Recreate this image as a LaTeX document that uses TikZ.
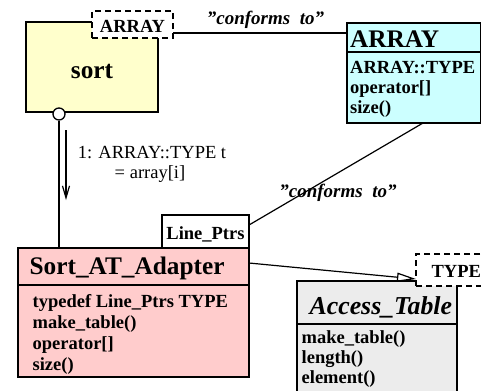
\documentclass[tikz,border=0pt]{standalone}
\usepackage{fontspec}
\setmainfont{Liberation Serif}
\usetikzlibrary{arrows.meta,calc}
\definecolor{sortfill}{RGB}{255,255,204}
\definecolor{arrfill}{RGB}{204,255,255}
\definecolor{adfill}{RGB}{255,204,204}
\definecolor{atfill}{RGB}{236,236,236}
\newcommand{\sq}{\symbol{34}}
\begin{document}
\begin{tikzpicture}[x=1bp,y=-1bp,line width=1.3bp,
  box/.style={draw,rectangle,inner sep=0pt,outer sep=0pt,anchor=north west},
  tmpl/.style={box,fill=white,dash pattern=on 6bp off 4bp},
  titletxt/.style={font=\fontsize{25.3bp}{28bp}\selectfont\bfseries,inner sep=0pt,anchor=base west},
  membtxt/.style={font=\fontsize{18.5bp}{21bp}\selectfont\bfseries,inner sep=0pt,anchor=base west},
  smalltxt/.style={font=\fontsize{18.5bp}{21bp}\selectfont\bfseries,inner sep=0pt,anchor=base},
  labtxt/.style={font=\fontsize{19bp}{21bp}\selectfont\bfseries\itshape,inner sep=0pt,anchor=base},
  msgtxt/.style={font=\fontsize{18.5bp}{21bp}\selectfont,inner sep=0pt,anchor=base},
  conn/.style={draw,line width=1.2bp}
]
\useasboundingbox (0,0) rectangle (481,390);

% sort class
\node[box,fill=sortfill,minimum width=132bp,minimum height=90bp] (sort) at (26,22) {};
\node[titletxt,anchor=base] (sortt) at (92,78) {sort};
\node[tmpl,minimum width=81bp,minimum height=27bp] (atmpl) at (92,11) {};
\node[smalltxt] (atmplt) at (132.5,32) {ARRAY};
\node[circle,draw,fill=white,minimum size=12bp,inner sep=0pt] (circ) at (59,114) {};

% ARRAY class
\node[box,fill=arrfill,minimum width=134bp,minimum height=100bp] (arr) at (347,23) {};
\draw ($(arr.north west)+(0,29)$) -- ($(arr.north east)+(0,29)$);
\node[titletxt] (arrt) at (349.5,47) {ARRAY};
\node[membtxt] (arr1) at (349.5,73) {ARRAY::TYPE};
\node[membtxt] (arr2) at (349.5,93) {operator[]};
\node[membtxt] (arr3) at (349.5,113) {size()};

% Access_Table class
\node[box,fill=atfill,minimum width=160bp,minimum height=112bp] (at) at (297,281) {};
\draw ($(at.north west)+(0,43)$) -- ($(at.north east)+(0,43)$);
\node[titletxt,font=\fontsize{25.8bp}{28bp}\selectfont\bfseries\itshape] (att) at (309,314) {Access\_Table};
\node[membtxt] (at1) at (301,343) {make\_table()};
\node[membtxt] (at2) at (301,363) {length()};
\node[membtxt] (at3) at (301,383) {element()};
\node[tmpl,minimum width=66bp,minimum height=32bp] (ttmpl) at (416,254) {};
\node[smalltxt,anchor=base west] (ttmplt) at (431,277) {TYPE};

% Sort_AT_Adapter class
\node[box,fill=adfill,minimum width=231bp,minimum height=129bp] (sa) at (18,248) {};
\draw ($(sa.north west)+(0,37)$) -- ($(sa.north east)+(0,37)$);
\node[titletxt] (sat) at (29,274) {Sort\_AT\_Adapter};
\node[membtxt] (sa1) at (32,307) {typedef Line\_Ptrs TYPE};
\node[membtxt] (sa2) at (32,328) {make\_table()};
\node[membtxt] (sa3) at (32,349) {operator[]};
\node[membtxt] (sa4) at (32,370) {size()};
\node[box,fill=white,minimum width=87bp,minimum height=33bp] (lp) at (162,215) {};
\node[smalltxt] (lpt) at (205.5,239) {Line\_Ptrs};

% connectors
\draw[conn] ($(atmpl.north east)+(0,22)$) -- ($(arr.north west)+(0,10)$);
\node[labtxt] (conf1) at (265.5,24) {\sq conforms\ \ to\sq};
\draw[conn] ($(lp.north east)+(0,10)$) -- ($(arr.south west)+(76,0)$);
\node[labtxt] (conf2) at (338,197) {\sq conforms\ \ to\sq};
\draw[conn] (circ.south) -- (circ.south |- sa.north);
\coordinate (ms) at (66,130);
\coordinate (me) at (66,200);
\draw[conn,-{Straight Barb[length=12bp,width=7bp]}] (ms) -- (me);
\node[msgtxt] (msg1) at (152,158) {1: ARRAY::TYPE t};
\node[msgtxt] (msg2) at (150,178) {= array[i]};
\draw[conn,-{Triangle[open,length=19bp,width=9bp]}] ($(sa.north east)+(0,15)$) -- ($(ttmpl.north west)+(0,25)$);
\end{tikzpicture}
\end{document}
